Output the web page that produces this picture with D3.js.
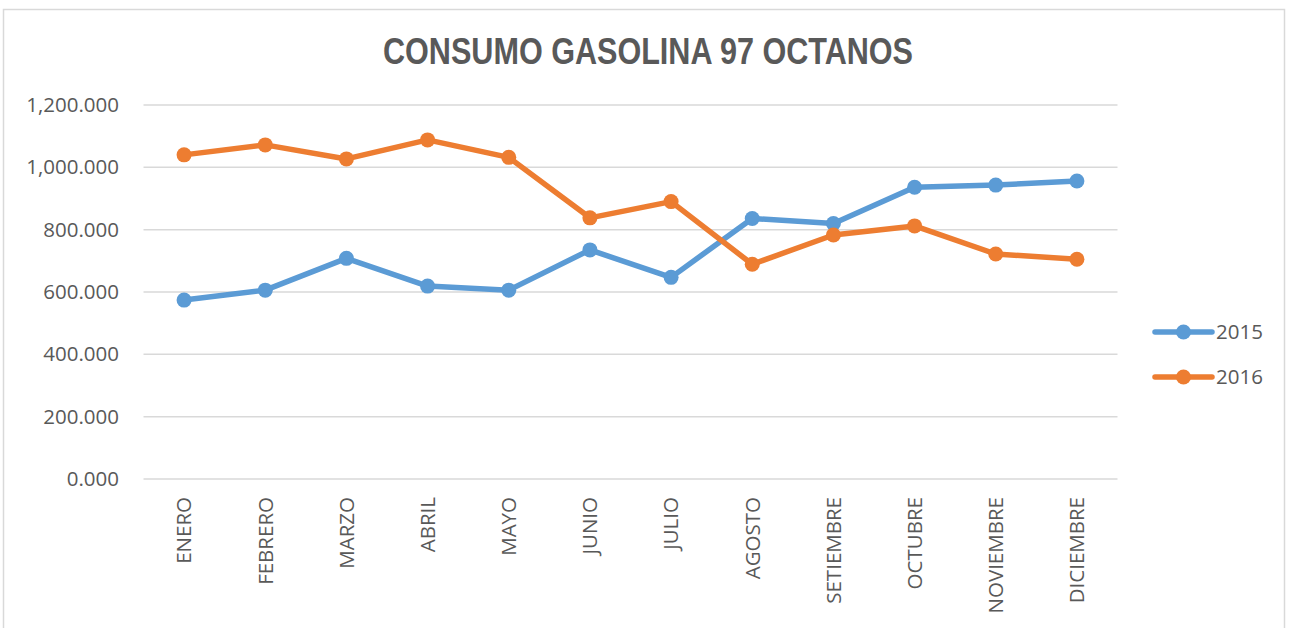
<!DOCTYPE html>
<html>
<head>
<meta charset="utf-8">
<script src="https://cdn.jsdelivr.net/npm/d3@7"></script>
<style>
  body { margin: 0; background: #fff; }
  svg { display: block; }
</style>
</head>
<body>
<svg id="chart" width="1290" height="628"></svg>
<script>
const months = ['ENERO', 'FEBRERO', 'MARZO', 'ABRIL', 'MAYO', 'JUNIO', 'JULIO',
    'AGOSTO', 'SETIEMBRE', 'OCTUBRE', 'NOVIEMBRE', 'DICIEMBRE'];
const values2015 = [574, 606, 708, 619, 606, 735, 647, 836, 820, 936, 943, 956];
const values2016 = [1040, 1072, 1027, 1088, 1032, 838, 890, 689, 783, 812, 722, 705];
const yTicks = [0, 200, 400, 600, 800, 1000, 1200];

const series = [
    { name: '2015', values: values2015, color: '#5B9BD5' },
    { name: '2016', values: values2016, color: '#ED7D31' }
];

const textColor = '#595959';
const font = '"Open Sans", sans-serif';

const svg = d3.select('#chart');

// chart frame
svg.append('rect')
    .attr('x', 3.5).attr('y', 9.5)
    .attr('width', 1281).attr('height', 640)
    .attr('fill', '#fff')
    .attr('stroke', '#d9d9d9')
    .attr('stroke-width', 1.5);

const x = d3.scaleBand()
    .domain(months)
    .range([143.5, 1117.5]);

const y = d3.scaleLinear()
    .domain([0, 1200])
    .range([479, 105]);

// gridlines
svg.append('g')
    .selectAll('line')
    .data(yTicks)
    .join('line')
    .attr('x1', 143.5)
    .attr('x2', 1117.5)
    .attr('y1', d => y(d))
    .attr('y2', d => y(d))
    .attr('stroke', '#d9d9d9')
    .attr('stroke-width', 1.5);

// y axis labels
const yAxis = svg.append('g')
    .attr('transform', 'translate(130,0)')
    .call(d3.axisLeft(y).tickValues(yTicks).tickFormat(d3.format(',.3f')).tickSize(0).tickPadding(11));
yAxis.select('.domain').remove();
yAxis.selectAll('text')
    .attr('font-family', font)
    .attr('font-size', 20.5)
    .attr('fill', textColor);

// x axis labels, rotated
svg.append('g')
    .selectAll('text')
    .data(months)
    .join('text')
    .attr('transform', d => `translate(${x(d) + x.bandwidth() / 2},497) rotate(-90)`)
    .attr('text-anchor', 'end')
    .attr('dy', '0.36em')
    .attr('font-family', font)
    .attr('font-size', 20.5)
    .attr('fill', textColor)
    .text(d => d);

const line = d3.line()
    .x((d, i) => x(months[i]) + x.bandwidth() / 2)
    .y(d => y(d));

series.forEach(s => {
    const g = svg.append('g');
    g.append('path')
        .datum(s.values)
        .attr('d', line)
        .attr('fill', 'none')
        .attr('stroke', s.color)
        .attr('stroke-width', 5.5)
        .attr('stroke-linejoin', 'round');
    g.selectAll('circle')
        .data(s.values)
        .join('circle')
        .attr('cx', (d, i) => x(months[i]) + x.bandwidth() / 2)
        .attr('cy', d => y(d))
        .attr('r', 7.5)
        .attr('fill', s.color);
});

// legend
const legend = svg.append('g')
    .selectAll('g')
    .data(series)
    .join('g')
    .attr('transform', (d, i) => `translate(1155,${332 + i * 45})`);
legend.append('line')
    .attr('x1', 0).attr('x2', 57)
    .attr('stroke', d => d.color)
    .attr('stroke-width', 5.5)
    .attr('stroke-linecap', 'round');
legend.append('circle')
    .attr('cx', 28.5)
    .attr('r', 7.5)
    .attr('fill', d => d.color);
legend.append('text')
    .attr('x', 61)
    .attr('dy', '0.36em')
    .attr('font-family', font)
    .attr('font-size', 20.5)
    .attr('fill', textColor)
    .text(d => d.name);

// title
svg.append('text')
    .attr('x', 648)
    .attr('y', 64)
    .attr('text-anchor', 'middle')
    .attr('font-family', '"Liberation Sans Narrow", "Arial Narrow", "Liberation Sans", sans-serif')
    .attr('font-stretch', 'condensed')
    .attr('font-weight', 'bold')
    .attr('font-size', 36)
    .attr('fill', textColor)
    .attr('textLength', 530)
    .attr('lengthAdjust', 'spacingAndGlyphs')
    .text('CONSUMO GASOLINA 97 OCTANOS');
</script>
</body>
</html>
